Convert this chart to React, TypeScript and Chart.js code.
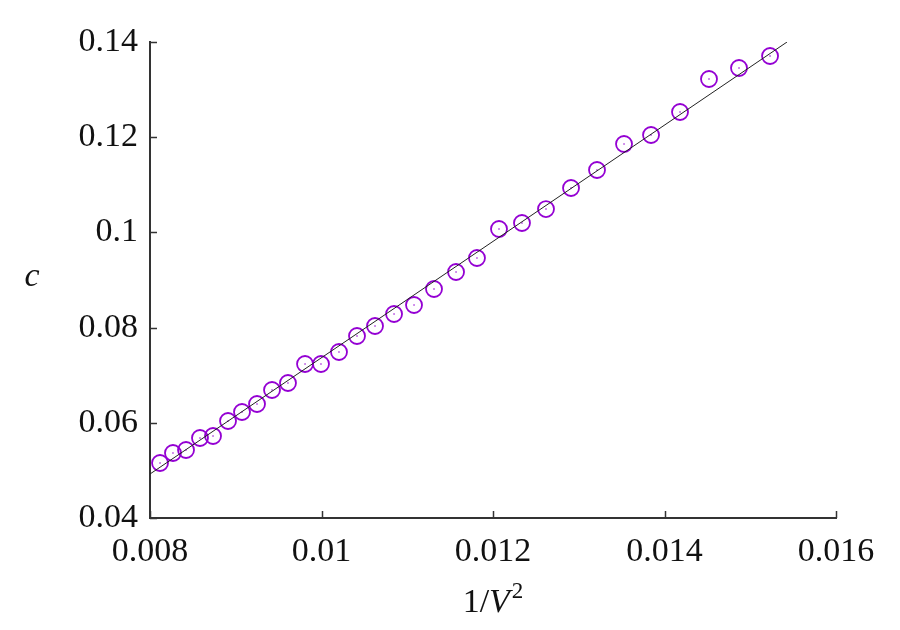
import React, { useEffect, useRef } from "react";
import { Chart, registerables } from "chart.js";

Chart.register(...registerables);

const xValues = [
  0.008117, 0.008268, 0.00842, 0.008583, 0.008735, 0.00891, 0.009073, 0.009248,
  0.009423, 0.009609, 0.009808, 0.009994, 0.010204, 0.010414, 0.010624, 0.010846,
  0.011079, 0.011312, 0.011569, 0.011813, 0.01207, 0.012338, 0.012618, 0.01291,
  0.013213, 0.013528, 0.013843, 0.014181, 0.014519, 0.014869, 0.015231,
];
const yValues = [
  0.05155, 0.05366, 0.05429, 0.05681, 0.05723, 0.06038, 0.06227, 0.06395,
  0.06689, 0.06836, 0.07235, 0.07235, 0.07487, 0.07824, 0.08034, 0.08286,
  0.08475, 0.08811, 0.09168, 0.09462, 0.10071, 0.10197, 0.10491, 0.10933,
  0.11311, 0.11857, 0.12046, 0.12529, 0.13223, 0.13454, 0.13706,
];
const fitX = [0.008, 0.015429];
const fitY = [0.04924, 0.14];

const xTicks = [0.008, 0.01, 0.012, 0.014, 0.016];
const yTicks = [0.04, 0.06, 0.08, 0.1, 0.12, 0.14];

const FONT = "'Liberation Serif', 'DejaVu Serif', serif";

const fmt = (v: number) => String(Number(v.toFixed(4)));

const decorPlugin = {
  id: "decor",
  afterDraw(chart: any) {
    const ctx = chart.ctx;
    const xs = chart.scales.x;
    const ys = chart.scales.y;
    const area = chart.chartArea;
    ctx.save();
    ctx.strokeStyle = "#333";
    ctx.lineWidth = 1.5;
    const tl = 7;
    xTicks.forEach((t) => {
      const px = Math.round(xs.getPixelForValue(t)) + 0.5;
      ctx.beginPath();
      ctx.moveTo(px, area.bottom);
      ctx.lineTo(px, area.bottom - tl);
      ctx.stroke();
    });
    yTicks.forEach((t) => {
      const py = Math.round(ys.getPixelForValue(t)) + 0.5;
      ctx.beginPath();
      ctx.moveTo(area.left, py);
      ctx.lineTo(area.left + tl, py);
      ctx.stroke();
    });
    ctx.fillStyle = "#111";
    ctx.textBaseline = "alphabetic";
    ctx.font = `italic 34px ${FONT}`;
    ctx.textAlign = "center";
    ctx.fillText("c", 32, 286);
    const base = 612;
    const cx = (area.left + area.right) / 2;
    ctx.font = `34px ${FONT}`;
    const w1 = ctx.measureText("1/").width;
    ctx.font = `italic 34px ${FONT}`;
    const w2 = ctx.measureText("V").width;
    ctx.font = `23px ${FONT}`;
    const w3 = ctx.measureText("2").width;
    const total = w1 + w2 + 2 + w3;
    let x0 = cx - total / 2;
    ctx.textAlign = "left";
    ctx.font = `34px ${FONT}`;
    ctx.fillText("1/", x0, base);
    x0 += w1;
    ctx.font = `italic 34px ${FONT}`;
    ctx.fillText("V", x0, base);
    x0 += w2 + 2;
    ctx.font = `23px ${FONT}`;
    ctx.fillText("2", x0, base - 14);
    ctx.restore();
  },
};

export default function App() {
  const ref = useRef<HTMLCanvasElement | null>(null);
  useEffect(() => {
    document.body.style.margin = "0";
    const canvas = ref.current;
    if (!canvas) return;
    const pts = xValues.map((x, i) => ({ x, y: yValues[i] }));
    const chart = new Chart(canvas, {
      type: "scatter",
      data: {
        datasets: [
          {
            type: "line",
            data: fitX.map((x, i) => ({ x, y: fitY[i] })),
            borderColor: "#222",
            borderWidth: 1,
            pointRadius: 0,
            fill: false,
          } as any,
          {
            data: pts,
            pointStyle: "circle",
            pointRadius: 8,
            borderColor: "#9400D3",
            backgroundColor: "rgba(0,0,0,0)",
            pointBorderWidth: 1.8,
          },
          {
            data: pts,
            pointStyle: "circle",
            pointRadius: 0.8,
            borderColor: "#9400D3",
            backgroundColor: "#9400D3",
            pointBorderWidth: 0,
          },
        ],
      },
      options: {
        responsive: false,
        animation: false,
        events: [],
        layout: { padding: { top: 42, right: 64, left: 0, bottom: 0 } },
        plugins: { legend: { display: false }, tooltip: { enabled: false } },
        scales: {
          x: {
            type: "linear",
            min: 0.008,
            max: 0.016,
            afterBuildTicks: (s: any) => {
              s.ticks = xTicks.map((v) => ({ value: v }));
            },
            afterFit: (s: any) => {
              s.height = 112;
            },
            grid: { display: false, drawTicks: false },
            border: { display: true, color: "#333", width: 2 },
            ticks: {
              padding: 14,
              color: "#111",
              font: { family: FONT, size: 34 },
              callback: (v: any) => fmt(Number(v)),
              maxRotation: 0,
              autoSkip: false,
            },
          },
          y: {
            type: "linear",
            min: 0.04,
            max: 0.14,
            afterBuildTicks: (s: any) => {
              s.ticks = yTicks.map((v) => ({ value: v }));
            },
            afterFit: (s: any) => {
              s.width = 150;
            },
            grid: { display: false, drawTicks: false },
            border: { display: true, color: "#333", width: 2 },
            ticks: {
              padding: 12,
              color: "#111",
              font: { family: FONT, size: 34 },
              callback: (v: any) => fmt(Number(v)),
              autoSkip: false,
            },
          },
        },
      },
      plugins: [decorPlugin],
    });
    return () => chart.destroy();
  }, []);
  return <canvas ref={ref} width={900} height={630} style={{ display: "block" }} />;
}
